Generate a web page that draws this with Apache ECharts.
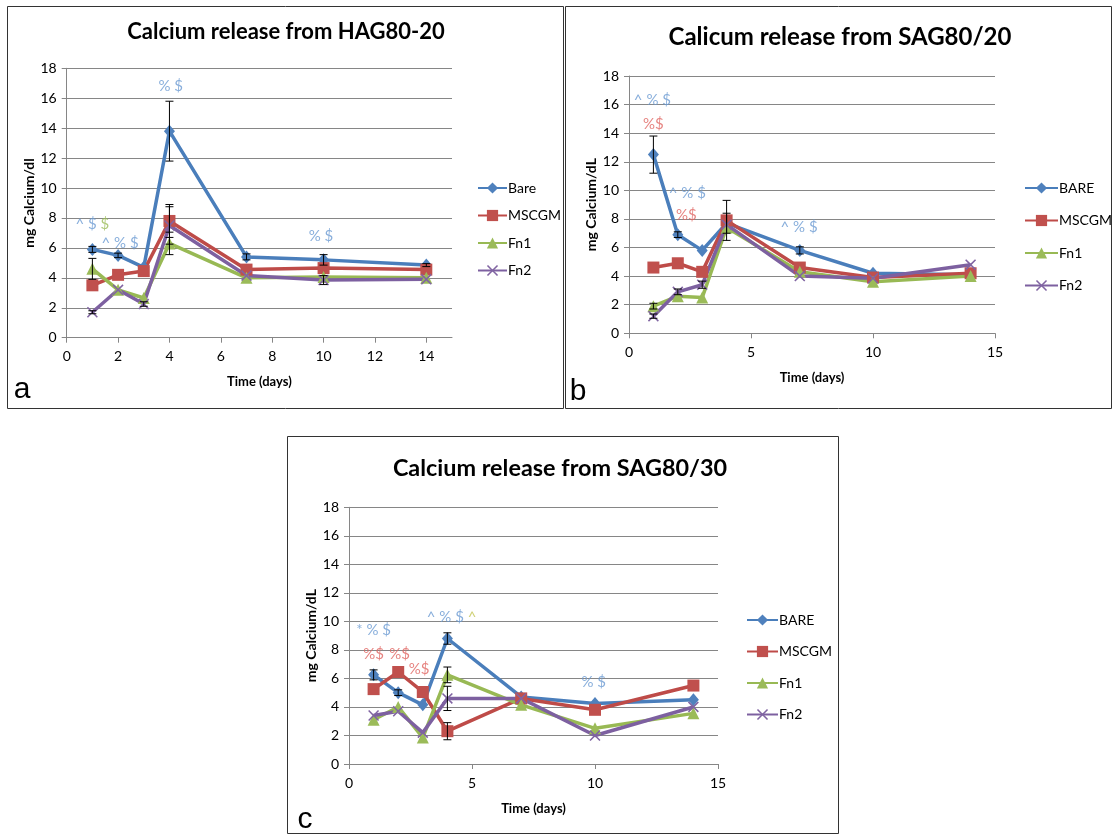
<!DOCTYPE html>
<html><head><meta charset="utf-8">
<script src="https://cdn.jsdelivr.net/npm/echarts@6/dist/echarts.min.js"></script>
<style>html,body{margin:0;padding:0;background:#fff}#c{width:1113px;height:839px}</style>
</head><body><div id="c"></div>
<script>
// ---------- DATA ----------
const days = [1, 2, 3, 4, 7, 10, 14];
const namesA = ['Bare', 'MSCGM', 'Fn1', 'Fn2'];
const namesBC = ['BARE', 'MSCGM', 'Fn1', 'Fn2'];
const yTicks = [0, 2, 4, 6, 8, 10, 12, 14, 16, 18];
const xTicksA = [0, 2, 4, 6, 8, 10, 12, 14];
const xTicksBC = [0, 5, 10, 15];

// Panel a: HAG80-20
const aBare  = [5.9, 5.5, 4.7, 13.8, 5.4, 5.2, 4.85];
const aMSCGM = [3.5, 4.2, 4.45, 7.8, 4.55, 4.65, 4.55];
const aFn1   = [4.6, 3.2, 2.65, 6.3, 4.0, 4.05, 4.0];
const aFn2   = [1.7, 3.2, 2.25, 7.5, 4.15, 3.85, 3.9];
const aBareErr  = [0.2, 0.15, 0, 2.0, 0.2, 0.35, 0.1];
const aMSCGMErr = [0, 0, 0, 1.1, 0, 0, 0];
const aFn1Err   = [0.7, 0, 0, 0.75, 0, 0, 0];
const aFn2Err   = [0.1, 0, 0.15, 1.25, 0, 0.3, 0];
const annA = [
  [1.0, 7.6, '{b|^ $ }{g|$}'],
  [2.08, 6.35, '{b|^ % $}'],
  [4.05, 16.8, '{b|% $}'],
  [9.9, 6.8, '{b|% $}']
];

// Panel b: SAG80/20
const bBare  = [12.5, 6.9, 5.8, 7.7, 5.8, 4.2, 4.1];
const bMSCGM = [4.6, 4.9, 4.3, 7.9, 4.6, 3.9, 4.2];
const bFn1   = [1.9, 2.6, 2.5, 7.4, 4.3, 3.6, 4.0];
const bFn2   = [1.2, 2.9, 3.4, 7.6, 4.0, 3.85, 4.8];
const bBareErr  = [1.3, 0.2, 0, 0.7, 0.25, 0, 0];
const bMSCGMErr = [0, 0, 0, 1.4, 0, 0, 0];
const bFn1Err   = [0.2, 0, 0, 0, 0, 0, 0];
const bFn2Err   = [0.15, 0.2, 0.25, 0, 0, 0, 0];
const annB = [
  [0.96, 16.3, '{b|^ % $}'],
  [1.0, 14.6, '{r|%$}'],
  [2.39, 9.8, '{b|^ % $}'],
  [2.35, 8.28, '{r|%$}'],
  [6.97, 7.46, '{b|^ % $}']
];

// Panel c: SAG80/30
const cBare  = [6.25, 5.0, 4.15, 8.8, 4.7, 4.25, 4.5];
const cMSCGM = [5.25, 6.45, 5.05, 2.3, 4.6, 3.8, 5.5];
const cFn1   = [3.1, 4.0, 1.85, 6.25, 4.15, 2.5, 3.55];
const cFn2   = [3.4, 3.7, 2.2, 4.6, 4.6, 2.0, 4.0];
const cBareErr  = [0.35, 0.2, 0, 0.4, 0, 0, 0];
const cMSCGMErr = [0, 0, 0, 0.6, 0, 0, 0];
const cFn1Err   = [0, 0, 0, 0.55, 0, 0, 0];
const cFn2Err   = [0, 0, 0, 0.85, 0, 0, 0];
const annC = [
  [1.0, 9.4, '{b|* % $}'],
  [1.0, 7.7, '{r|%$}'],
  [2.06, 7.7, '{r|%$}'],
  [2.85, 6.64, '{r|%$}'],
  [4.17, 10.3, '{b|^ % $ }{y|^}'],
  [9.95, 5.77, '{b|% $}']
];

// ---------- STYLE / LAYOUT ----------
const FONT = 'Lato, "Liberation Sans", Arial, sans-serif';
const lineColors = ['#4A7EBB', '#BE4B48', '#98B954', '#7D60A0'];
const markColors = ['#4F81BD', '#C0504D', '#9BBB59', '#8064A2'];
const XPATH = 'path://M0,1L1,0L5,4L9,0L10,1L6,5L10,9L9,10L5,6L1,10L0,9L4,5Z';
const symbols = ['diamond', 'rect', 'triangle', XPATH];
const symSizes = [[11, 13], 12, 12, 11];

const panels = [
  { title: 'Calcium release from HAG80-20', titlePos: [286, 32], titleSize: 22, yName: 'mg Calcium/dl',
    names: namesA, vals: [aBare, aMSCGM, aFn1, aFn2], errs: [aBareErr, aMSCGMErr, aFn1Err, aFn2Err],
    ann: annA, xTicks: xTicksA, xInterval: 2,
    grid: { left: 66.7, top: 68.3, width: 385.3, height: 269.4 },
    legend: { left: 477, top: 181, itemWidth: 29, itemGap: 13.5 },
    letter: 'a', letterPos: [22, 390], border: [7, 6, 556, 402] },
  { title: 'Calicum release from SAG80/20', titlePos: [840, 37], titleSize: 24, yName: 'mg Calcium/dL',
    names: namesBC, vals: [bBare, bMSCGM, bFn1, bFn2], errs: [bBareErr, bMSCGMErr, bFn1Err, bFn2Err],
    ann: annB, xTicks: xTicksBC, xInterval: 5,
    grid: { left: 629, top: 76, width: 366, height: 257.3 },
    legend: { left: 1024, top: 181, itemWidth: 33, itemGap: 18.5 },
    letter: 'b', letterPos: [578, 392], border: [565, 6, 546, 402] },
  { title: 'Calcium release from SAG80/30', titlePos: [560, 468], titleSize: 23.4, yName: 'mg Calcium/dL',
    names: namesBC, vals: [cBare, cMSCGM, cFn1, cFn2], errs: [cBareErr, cMSCGMErr, cFn1Err, cFn2Err],
    ann: annC, xTicks: xTicksBC, xInterval: 5,
    grid: { left: 349, top: 507.3, width: 369, height: 256.7 },
    legend: { left: 746, top: 613, itemWidth: 31, itemGap: 17.5 },
    letter: 'c', letterPos: [305, 820], border: [287, 436, 551, 397] }
];

const axisGray = '#868686';
const grids = [], xAxes = [], yAxes = [], legends = [], series = [], graphics = [];

panels.forEach((p, i) => {
  grids.push(Object.assign({ containLabel: false }, p.grid));
  xAxes.push({
    gridIndex: i, type: 'value', min: 0, max: 15, interval: p.xInterval,
    name: 'Time (days)', nameLocation: 'middle', nameGap: 38,
    nameTextStyle: { fontFamily: FONT, fontWeight: 'bold', fontSize: 13, color: '#000' },
    axisLine: { show: true, onZero: false, lineStyle: { color: axisGray, width: 1 } },
    axisTick: { show: true, length: 5, customValues: p.xTicks, lineStyle: { color: axisGray } },
    axisLabel: { customValues: p.xTicks, fontFamily: FONT, fontSize: 14, color: '#000', margin: 12 },
    splitLine: { show: false }
  });
  yAxes.push({
    gridIndex: i, type: 'value', min: 0, max: 18, interval: 2,
    name: p.yName, nameLocation: 'middle', nameGap: 30, nameRotate: 90,
    nameTextStyle: { fontFamily: FONT, fontWeight: 'bold', fontSize: 14, color: '#000' },
    axisLine: { show: true, lineStyle: { color: axisGray, width: 1 } },
    axisTick: { show: true, length: 5, lineStyle: { color: axisGray } },
    axisLabel: { fontFamily: FONT, fontSize: 14, color: '#000', margin: 10 },
    splitLine: { show: true, lineStyle: { color: axisGray, width: 1 } }
  });
  legends.push(Object.assign({
    data: p.names, orient: 'vertical', itemHeight: 14, selectedMode: false, padding: 0,
    textStyle: { fontFamily: FONT, fontSize: 14, lineHeight: 14, color: '#000', padding: [0, 0, 0, -4] }
  }, p.legend));

  p.names.forEach((nm, s) => {
    series.push({
      type: 'line', name: nm, xAxisIndex: i, yAxisIndex: i,
      data: days.map((d, k) => [d, p.vals[s][k]]),
      symbol: symbols[s], symbolSize: symSizes[s], showAllSymbol: true,
      lineStyle: { width: 3.5, color: lineColors[s] },
      itemStyle: { color: markColors[s] },
      z: 2, animation: false
    });
  });
  // error bars
  const errData = [];
  p.names.forEach((nm, s) => {
    days.forEach((d, k) => {
      const e = p.errs[s][k];
      if (e > 0) errData.push([d, p.vals[s][k] - e, p.vals[s][k] + e]);
    });
  });
  series.push({
    type: 'custom', xAxisIndex: i, yAxisIndex: i, data: errData, z: 5, silent: true, animation: false,
    renderItem: (params, api) => {
      const x = api.value(0);
      const lo = api.coord([x, api.value(1)]);
      const hi = api.coord([x, api.value(2)]);
      const w = 4;
      const st = { stroke: '#000', lineWidth: 1 };
      return { type: 'group', children: [
        { type: 'line', shape: { x1: lo[0], y1: lo[1], x2: hi[0], y2: hi[1] }, style: st },
        { type: 'line', shape: { x1: lo[0] - w, y1: lo[1], x2: lo[0] + w, y2: lo[1] }, style: st },
        { type: 'line', shape: { x1: hi[0] - w, y1: hi[1], x2: hi[0] + w, y2: hi[1] }, style: st }
      ] };
    }
  });
  // significance annotations
  series.push({
    type: 'scatter', xAxisIndex: i, yAxisIndex: i, silent: true, animation: false, z: 6,
    symbolSize: 1, itemStyle: { color: 'rgba(0,0,0,0)' },
    data: p.ann.map(a => [a[0], a[1]]),
    label: {
      show: true, position: 'inside',
      formatter: (prm) => p.ann[prm.dataIndex][2],
      rich: {
        b: { color: '#6A9AD2', fontFamily: FONT, fontSize: 15 },
        r: { color: '#E06561', fontFamily: FONT, fontSize: 15 },
        g: { color: '#9BBB59', fontFamily: FONT, fontSize: 15 },
        y: { color: '#C4C655', fontFamily: FONT, fontSize: 15 }
      }
    }
  });

  graphics.push({ type: 'rect', shape: { x: p.border[0] + 0.5, y: p.border[1] + 0.5, width: p.border[2], height: p.border[3] },
    style: { fill: 'none', stroke: '#333', lineWidth: 1 }, z: 10 });
  graphics.push({ type: 'text', x: p.titlePos[0], y: p.titlePos[1],
    style: { text: p.title, fontFamily: FONT, fontWeight: 'bold', fontSize: p.titleSize, fill: '#000', align: 'center', verticalAlign: 'middle' } });
  graphics.push({ type: 'text', x: p.letterPos[0], y: p.letterPos[1],
    style: { text: p.letter, fontFamily: '"Liberation Sans", Arial, sans-serif', fontSize: 30, fill: '#000', align: 'center', verticalAlign: 'middle' } });
});

const chart = echarts.init(document.getElementById('c'), null, { renderer: 'canvas' });
chart.setOption({
  backgroundColor: '#fff', animation: false,
  grid: grids, xAxis: xAxes, yAxis: yAxes, legend: legends, series: series, graphic: graphics
});
</script></body></html>
